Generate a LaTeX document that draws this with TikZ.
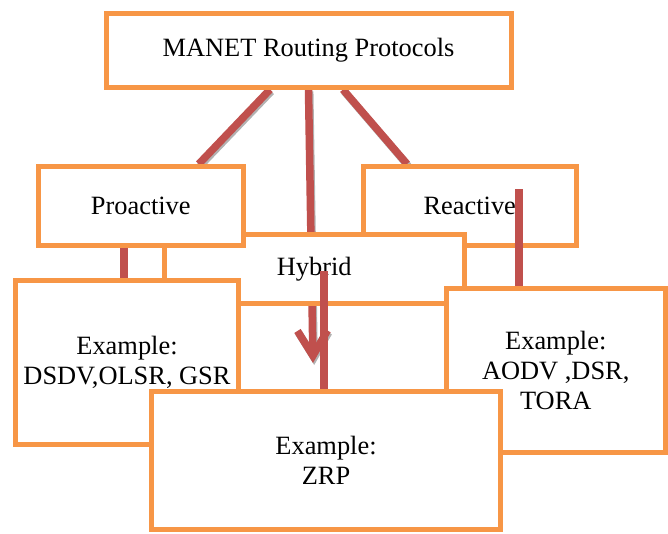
\documentclass[tikz,border=0pt]{standalone}
\usepackage{fontspec}
\setmainfont{Liberation Serif}
\usetikzlibrary{arrows.meta,calc}
\pgfdeclarelayer{bg}
\pgfsetlayers{bg,main}
\definecolor{boxorange}{HTML}{F79646}
\definecolor{linered}{HTML}{C0504D}
\tikzset{
  box/.style={draw=boxorange, line width=5pt, fill=white, inner sep=0pt, align=center,
    font=\fontsize{26.4}{30}\selectfont},
  conn/.style={draw=linered, line width=7.5pt},
  shadowed/.style={preaction={draw=gray!60, line width=7.5pt, transform canvas={xshift=1.2pt,yshift=-2pt}}}
}
\begin{document}
\begin{tikzpicture}[x=1pt,y=-1pt]
\useasboundingbox (0,0) rectangle (668,533);
\node[box, minimum width=405pt, minimum height=74pt] (top) at (308.5,50) {MANET Routing Protocols};
% coordinates for connector ends
\coordinate (harr) at (313,363);
\coordinate (htop) at (324,271);
\coordinate (rtop) at (519,189);
\coordinate (c1) at (124,0);
\node[box, minimum width=213.5pt, minimum height=79pt] (rea) at (469.75,206) {Reactive};
\node[box, minimum width=299.5pt, minimum height=68.5pt] (hyb) at (314.25,268.75) {Hybrid};
\node[box, minimum width=204.5pt, minimum height=79pt] (pro) at (140.75,206) {Proactive};
\begin{pgfonlayer}{bg}
\draw[conn, shadowed, -{Straight Barb[length=25pt,width=30pt]}] (top.south) -- (harr);
\draw[conn, shadowed] ([xshift=-38.5pt]top.south) -- ([xshift=58pt]pro.north);
\draw[conn, shadowed] ([xshift=34.5pt]top.south) -- ([xshift=-62.75pt]rea.north);
\end{pgfonlayer}
\draw[conn] (rtop) -- (rtop |- 0,288);
\draw[conn] (htop) -- (htop |- 0,392);
\draw[conn] (pro.south -| c1) -- (c1 |- 0,281);
\node[box, minimum width=223pt, minimum height=163.5pt] (ex1) at (127,362.25) {Example:\\DSDV,OLSR, GSR};
\node[box, minimum width=219.5pt, minimum height=164.5pt] (ex3) at (555.75,370.25) {Example:\\AODV ,DSR,\\TORA};
\node[box, minimum width=349pt, minimum height=137.5pt] (ex2) at (326,460.25) {Example:\\ZRP};
\end{tikzpicture}
\end{document}
